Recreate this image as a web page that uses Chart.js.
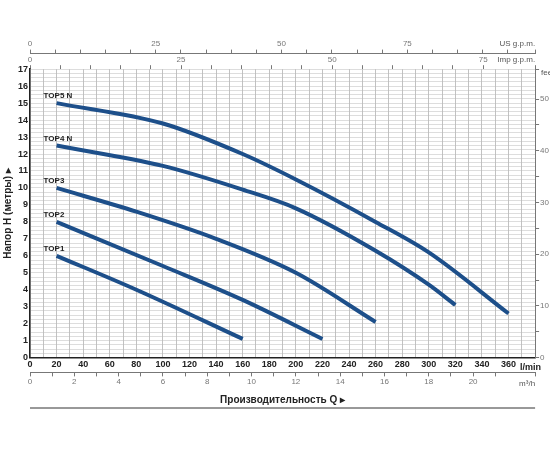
<!DOCTYPE html>
<html><head><meta charset="utf-8">
<script src="https://cdn.jsdelivr.net/npm/chart.js@4"></script>
<style>html,body{margin:0;background:#fff}#wrap{width:550px;height:450px}</style>
</head><body><div id="wrap"><canvas id="c"></canvas></div>
<script>
// flow in l/min, head in metres
const top1Q = [20, 80, 160];
const top1H = [6.0, 4.0, 1.1];
const top2Q = [20, 100, 160, 220];
const top2H = [8.0, 5.4, 3.4, 1.1];
const top3Q = [20, 80, 140, 200, 260];
const top3H = [10.0, 8.6, 7.0, 5.0, 2.1];
const top4Q = [20, 100, 160, 200, 260, 300, 320];
const top4H = [12.5, 11.3, 9.9, 8.8, 6.3, 4.3, 3.1];
const top5Q = [20, 100, 160, 200, 260, 300, 360];
const top5H = [15.0, 13.8, 12.0, 10.5, 8.0, 6.2, 2.6];
const curveNames = ['TOP1', 'TOP2', 'TOP3', 'TOP4 N', 'TOP5 N'];

const QMAX = 380, HMAX = 17;
const pts = (q, h) => q.map((v, i) => ({x: v, y: h[i]}));
const series = [[top1Q, top1H], [top2Q, top2H], [top3Q, top3H], [top4Q, top4H], [top5Q, top5H]];
const small = {family: 'Liberation Sans', size: 8};
const bold = {family: 'Liberation Sans', size: 9, weight: 'bold'};
const grey = '#777';

const labels = {
  id: 'labels',
  afterDraw(chart) {
    const {ctx, scales: {x, y}} = chart;
    ctx.save();
    ctx.fillStyle = '#222';
    ctx.font = 'bold 8px "Liberation Sans"';
    series.forEach((s, i) => ctx.fillText(curveNames[i], x.getPixelForValue(s[0][0]) - 13, y.getPixelForValue(s[1][0]) - 5));
    ctx.font = '8px "Liberation Sans"';
    ctx.fillStyle = '#555';
    ctx.textAlign = 'right';
    ctx.fillText('US g.p.m.', x.right, chart.scales.us.top + 8);
    ctx.fillText('Imp g.p.m.', x.right, chart.scales.imp.top + 8);
    ctx.fillText('m³/h', x.right, chart.scales.m3h.top + 14);
    ctx.font = 'bold 9px "Liberation Sans"';
    ctx.fillStyle = '#222';
    ctx.fillText('l/min', x.right + 6, x.top + 12);
    ctx.font = '8px "Liberation Sans"';
    ctx.fillStyle = '#555';
    ctx.textAlign = 'left';
    ctx.fillText('feet', x.right + 6, y.top + 6);
    // bottom rule
    ctx.strokeStyle = '#333';
    ctx.lineWidth = 1;
    ctx.beginPath(); ctx.moveTo(x.left, 408); ctx.lineTo(x.right, 408); ctx.stroke();
    ctx.restore();
  }
};

new Chart(document.getElementById('c'), {
  type: 'line',
  data: {datasets: series.map((s, i) => ({
    label: curveNames[i], data: pts(s[0], s[1]),
    borderColor: '#1d4f8a', borderWidth: 4, pointRadius: 0, cubicInterpolationMode: 'monotone', fill: false
  }))},
  options: {
    responsive: true, maintainAspectRatio: false, animation: false,
    layout: {padding: {left: 0, right: 0, top: 38, bottom: 40}},
    plugins: {legend: {display: false}, tooltip: {enabled: false}},
    scales: {
      x: {type: 'linear', position: 'bottom', min: 0, max: QMAX,
        ticks: {stepSize: 10, autoSkip: false, maxRotation: 0, color: '#222', font: bold, padding: 2,
          callback: v => (v % 20 === 0 && v <= 360) ? v : ''},
        grid: {color: '#999', lineWidth: 0.6, drawTicks: false},
        border: {color: '#222', width: 1.5}},
      m3h: {type: 'linear', position: 'bottom', min: 0, max: QMAX / 16.667,
        ticks: {stepSize: 1, autoSkip: false, maxRotation: 0, color: grey, font: small, padding: 1,
          callback: v => v % 2 === 0 ? v : ''},
        grid: {drawOnChartArea: false, tickLength: 4, color: grey},
        border: {color: grey},
        title: {display: true, text: 'Производительность Q ▸', color: '#222',
          font: {family: 'Liberation Sans', size: 10, weight: 'bold'}, padding: {top: 6}}},
      imp: {type: 'linear', position: 'top', min: 0, max: QMAX / 4.546,
        ticks: {stepSize: 5, autoSkip: false, maxRotation: 0, color: grey, font: small, padding: 1,
          callback: v => v % 25 === 0 ? v : ''},
        grid: {drawOnChartArea: false, tickLength: 4, color: grey},
        border: {display: false}},
      us: {type: 'linear', position: 'top', min: 0, max: QMAX / 3.785,
        ticks: {stepSize: 5, autoSkip: false, maxRotation: 0, color: grey, font: small, padding: 1,
          callback: v => (v % 25 === 0 && v < 100) ? v : ''},
        grid: {drawOnChartArea: false, tickLength: 4, color: grey},
        border: {color: grey}},
      y: {type: 'linear', position: 'left', min: 0, max: HMAX,
        ticks: {stepSize: 0.25, autoSkip: false, color: '#222', font: bold, padding: 2,
          callback: v => Number.isInteger(v) ? v : ''},
        grid: {color: '#bbb', lineWidth: 0.5, drawTicks: false},
        border: {color: '#222', width: 1.5},
        title: {display: true, text: 'Напор H (метры) ▸', color: '#222',
          font: {family: 'Liberation Sans', size: 10, weight: 'bold'}, padding: 2}},
      ft: {type: 'linear', position: 'right', min: 0, max: HMAX * 3.2808,
        ticks: {stepSize: 5, autoSkip: false, color: grey, font: small, padding: 1,
          callback: v => v % 10 === 0 ? v : ''},
        grid: {drawOnChartArea: false, tickLength: 4, color: grey},
        border: {color: grey}}
    }
  },
  plugins: [labels]
});
</script></body></html>
